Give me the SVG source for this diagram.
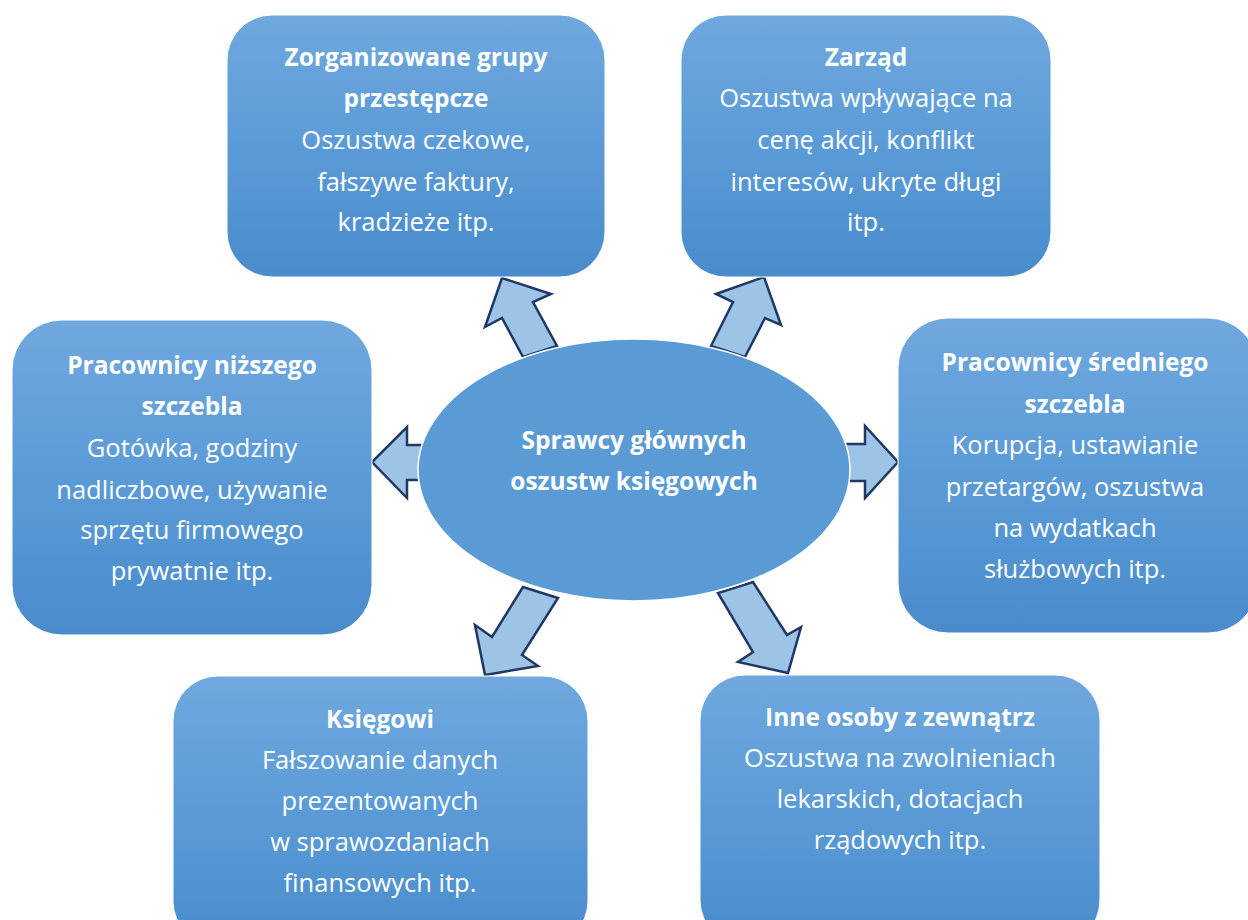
<svg xmlns="http://www.w3.org/2000/svg" width="1248" height="920" viewBox="0 0 1248 920">
<defs>
<linearGradient id="g" x1="0" y1="0" x2="0" y2="1">
<stop offset="0" stop-color="#70a8de"/>
<stop offset="0.5" stop-color="#5a9bd7"/>
<stop offset="1" stop-color="#4a8bcc"/>
</linearGradient>
<style>
.box{fill:url(#g);stroke:#ffffff;stroke-width:1}
.arr{fill:#9dc3e6;stroke:#1f3864;stroke-width:2.5;stroke-linejoin:miter}
.t{font-family:"Open Sans","Noto Sans","DejaVu Sans",sans-serif;font-size:25.5px;fill:#ffffff;text-anchor:middle}
.b{font-weight:bold;font-size:24.5px}
</style>
</defs>
<rect width="1248" height="920" fill="#ffffff"/>
<g id="connectors">
<polygon class="arr" points="523,357 502,318 485,327 502,278 551,294 533,302 557,346"/>
<polygon class="arr" points="711,346 733,302 716,294 764,277 781,325 765,318 745,357"/>
<polygon class="arr" points="430,445 407,445 407,427 372,462 407,498 407,480 430,480"/>
<polygon class="arr" points="840,444 865,444 865,426 898,462 865,498 865,481 840,481"/>
<polygon class="arr" points="523,587 492,637 475,625 485,675 538,666 522,655 558,598"/>
<polygon class="arr" points="718,593 753,652 738,662 788,673 801,627 787,635 753,582"/>
</g>
<g id="center">
<ellipse cx="634" cy="470" rx="216" ry="131" fill="#5b9bd5" stroke="#ffffff" stroke-width="1.5"/>
<text class="t b" x="634" y="449">Sprawcy głównych</text>
<text class="t b" x="634" y="490">oszustw księgowych</text>
</g>
<g id="n1">
<rect class="box" x="227" y="15" width="378" height="262" rx="45"/>
<text class="t b" x="416" y="66">Zorganizowane grupy</text>
<text class="t b" x="416" y="107">przestępcze</text>
<text class="t" x="416" y="149">Oszustwa czekowe,</text>
<text class="t" x="416" y="191">fałszywe faktury,</text>
<text class="t" x="416" y="231">kradzieże itp.</text>
</g>
<g id="n2">
<rect class="box" x="681" y="15" width="370" height="262" rx="45"/>
<text class="t b" x="866" y="66">Zarząd</text>
<text class="t" x="866" y="107">Oszustwa wpływające na</text>
<text class="t" x="866" y="149">cenę akcji, konflikt</text>
<text class="t" x="866" y="191">interesów, ukryte długi</text>
<text class="t" x="866" y="231">itp.</text>
</g>
<g id="n3">
<rect class="box" x="12" y="320" width="360" height="315" rx="50"/>
<text class="t b" x="192" y="374">Pracownicy niższego</text>
<text class="t b" x="192" y="415">szczebla</text>
<text class="t" x="192" y="457">Gotówka, godziny</text>
<text class="t" x="192" y="499">nadliczbowe, używanie</text>
<text class="t" x="192" y="539">sprzętu firmowego</text>
<text class="t" x="192" y="580">prywatnie itp.</text>
</g>
<g id="n4">
<rect class="box" x="898" y="318" width="360" height="315" rx="50"/>
<text class="t b" x="1075" y="371">Pracownicy średniego</text>
<text class="t b" x="1075" y="413">szczebla</text>
<text class="t" x="1075" y="454">Korupcja, ustawianie</text>
<text class="t" x="1075" y="496">przetargów, oszustwa</text>
<text class="t" x="1075" y="537">na wydatkach</text>
<text class="t" x="1075" y="578">służbowych itp.</text>
</g>
<g id="n5">
<rect class="box" x="173" y="676" width="415" height="270" rx="45"/>
<text class="t b" x="380" y="728">Księgowi</text>
<text class="t" x="380" y="769">Fałszowanie danych</text>
<text class="t" x="380" y="810">prezentowanych</text>
<text class="t" x="380" y="851">w sprawozdaniach</text>
<text class="t" x="380" y="892">finansowych itp.</text>
</g>
<g id="n6">
<rect class="box" x="700" y="675" width="400" height="270" rx="45"/>
<text class="t b" x="900" y="726">Inne osoby z zewnątrz</text>
<text class="t" x="900" y="767">Oszustwa na zwolnieniach</text>
<text class="t" x="900" y="808">lekarskich, dotacjach</text>
<text class="t" x="900" y="849">rządowych itp.</text>
</g>
</svg>
